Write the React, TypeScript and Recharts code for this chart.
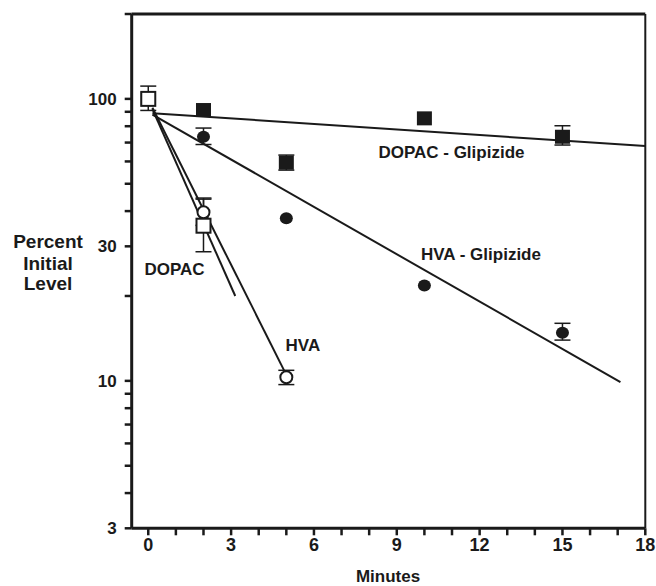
import {
  ComposedChart,
  Scatter,
  Line,
  XAxis,
  YAxis,
  ErrorBar,
  ReferenceLine,
  ReferenceDot,
  Label,
} from "recharts";

// measured levels, percent of initial, log scale
const dopacTimes = [0, 2];
const dopacLevels = [100, 35.5];
const dopacErrors = [[9, 11], [6.8, 9]];

const hvaTimes = [0, 2, 5];
const hvaLevels = [100, 39.6, 10.3];
const hvaErrors = [null, [4, 4.5], [0.6, 0.6]];

const dopacGlipTimes = [0, 2, 5, 10, 15];
const dopacGlipLevels = [100, 91.3, 59.4, 85.3, 73.4];
const dopacGlipErrors = [null, null, [3.5, 3.8], null, [4.8, 6.9]];

const hvaGlipTimes = [0, 2, 5, 10, 15];
const hvaGlipLevels = [100, 73.4, 37.7, 21.8, 14.8];
const hvaGlipErrors = [null, [4.5, 5.4], null, null, [0.85, 1.2]];

// fitted decay lines (end points)
const dopacFitTimes = [0.15, 3.15];
const dopacFitLevels = [92, 20];
const hvaFitTimes = [0.15, 5.0];
const hvaFitLevels = [93, 10.5];
const dopacGlipFitTimes = [0.15, 18];
const dopacGlipFitLevels = [89, 68];
const hvaGlipFitTimes = [0.15, 17.1];
const hvaGlipFitLevels = [88, 9.9];

const xTicks = [0, 1, 2, 3, 4, 5, 6, 7, 8, 9, 10, 11, 12, 13, 14, 15, 16, 17, 18];
const xLabeled = [0, 3, 6, 9, 12, 15, 18];
const yTicks = [3, 4, 5, 6, 7, 8, 9, 10, 20, 30, 40, 50, 60, 70, 80, 90, 100, 200];
const yLabeled = [3, 10, 30, 100];

const ink = "#1a1a1a";
const font = "'Liberation Sans', Arial, Helvetica, sans-serif";

const toPoints = (t: number[], v: number[], e?: (number[] | null)[]) =>
  t.map((x, i) => ({ x, y: v[i], err: e ? e[i] : null }));

const OpenSquare = (p: any) => (
  <rect x={p.cx - 7} y={p.cy - 7} width={14} height={14} fill="#fff" stroke={ink} strokeWidth={2} />
);
const FilledSquare = (p: any) => (
  <rect x={p.cx - 7.5} y={p.cy - 7} width={15} height={14} fill={ink} />
);
const OpenCircle = (p: any) => (
  <circle cx={p.cx} cy={p.cy} r={6} fill="#fff" stroke={ink} strokeWidth={2} />
);
const FilledCircle = (p: any) => (
  <ellipse cx={p.cx} cy={p.cy} rx={6.5} ry={6} fill={ink} />
);

const textStyle = { fill: ink, fontSize: 17, fontWeight: 700, fontFamily: font };

const XTick = (p: any) => {
  const v = p.payload.value;
  return xLabeled.includes(v) ? (
    <text x={p.x} y={p.y + 14} textAnchor="middle" {...textStyle} fontSize={18}>
      {v}
    </text>
  ) : (
    <g />
  );
};

const YTick = (p: any) => {
  const v = p.payload.value;
  return yLabeled.includes(v) ? (
    <text x={p.x - 6} y={p.y + 6} textAnchor="end" {...textStyle}>
      {v}
    </text>
  ) : (
    <g />
  );
};

const note = (text: string) => ({
  value: text,
  position: "center" as const,
  ...textStyle,
});

export default function App() {
  return (
    <div style={{ position: "absolute", left: 0, top: 0, background: "#fff" }}>
      <ComposedChart
        width={656}
        height={586}
        margin={{ top: 14, right: 10.7, bottom: 0, left: 0 }}
      >
        <XAxis
          type="number"
          dataKey="x"
          domain={[-0.6, 18]}
          ticks={xTicks}
          allowDataOverflow
          interval={0}
          height={57.7}
          tickSize={7}
          axisLine={{ stroke: ink, strokeWidth: 3 }}
          tickLine={{ stroke: ink, strokeWidth: 2.5 }}
          tick={<XTick />}
        >
          <Label
            content={() => (
              <text x={388} y={582} textAnchor="middle" {...textStyle} fontSize={17}>
                Minutes
              </text>
            )}
          />
        </XAxis>
        <YAxis
          type="number"
          dataKey="y"
          scale="log"
          domain={[3, 200]}
          ticks={yTicks}
          allowDataOverflow
          interval={0}
          width={131.7}
          tickSize={7}
          axisLine={{ stroke: ink, strokeWidth: 3 }}
          tickLine={{ stroke: ink, strokeWidth: 2.5 }}
          tick={<YTick />}
        >
          <Label
            content={() => (
              <text textAnchor="middle" {...textStyle} fontSize={19}>
                <tspan x={48} y={248}>Percent</tspan>
                <tspan x={48} y={269.5}>Initial</tspan>
                <tspan x={48} y={290}>Level</tspan>
              </text>
            )}
          />
        </YAxis>

        <ReferenceLine y={200} stroke={ink} strokeWidth={3} />
        <ReferenceLine x={18} stroke={ink} strokeWidth={2} />

        <Scatter data={toPoints(hvaGlipTimes, hvaGlipLevels, hvaGlipErrors)} dataKey="y" shape={FilledCircle} isAnimationActive={false}>
          <ErrorBar dataKey="err" direction="y" width={8} stroke={ink} strokeWidth={1.5} />
        </Scatter>
        <Scatter data={toPoints(dopacGlipTimes, dopacGlipLevels, dopacGlipErrors)} dataKey="y" shape={FilledSquare} isAnimationActive={false}>
          <ErrorBar dataKey="err" direction="y" width={8} stroke={ink} strokeWidth={1.5} />
        </Scatter>
        <Scatter data={toPoints(hvaTimes, hvaLevels, hvaErrors)} dataKey="y" shape={OpenCircle} isAnimationActive={false}>
          <ErrorBar dataKey="err" direction="y" width={8} stroke={ink} strokeWidth={1.5} />
        </Scatter>
        <Scatter data={toPoints(dopacTimes, dopacLevels, dopacErrors)} dataKey="y" shape={OpenSquare} isAnimationActive={false}>
          <ErrorBar dataKey="err" direction="y" width={8} stroke={ink} strokeWidth={1.5} />
        </Scatter>

        <Line data={toPoints(dopacGlipFitTimes, dopacGlipFitLevels)} dataKey="y" type="linear" stroke={ink} strokeWidth={2} dot={false} activeDot={false} isAnimationActive={false} />
        <Line data={toPoints(hvaGlipFitTimes, hvaGlipFitLevels)} dataKey="y" type="linear" stroke={ink} strokeWidth={2} dot={false} activeDot={false} isAnimationActive={false} />
        <Line data={toPoints(dopacFitTimes, dopacFitLevels)} dataKey="y" type="linear" stroke={ink} strokeWidth={2} dot={false} activeDot={false} isAnimationActive={false} />
        <Line data={toPoints(hvaFitTimes, hvaFitLevels)} dataKey="y" type="linear" stroke={ink} strokeWidth={2} dot={false} activeDot={false} isAnimationActive={false} />

        <ReferenceDot x={10.98} y={65} r={0} stroke="none" fill="none" label={note("DOPAC - Glipizide")} />
        <ReferenceDot x={12.05} y={28.3} r={0} stroke="none" fill="none" label={note("HVA - Glipizide")} />
        <ReferenceDot x={0.95} y={24.9} r={0} stroke="none" fill="none" label={note("DOPAC")} />
        <ReferenceDot x={5.6} y={13.4} r={0} stroke="none" fill="none" label={note("HVA")} />
      </ComposedChart>
    </div>
  );
}
